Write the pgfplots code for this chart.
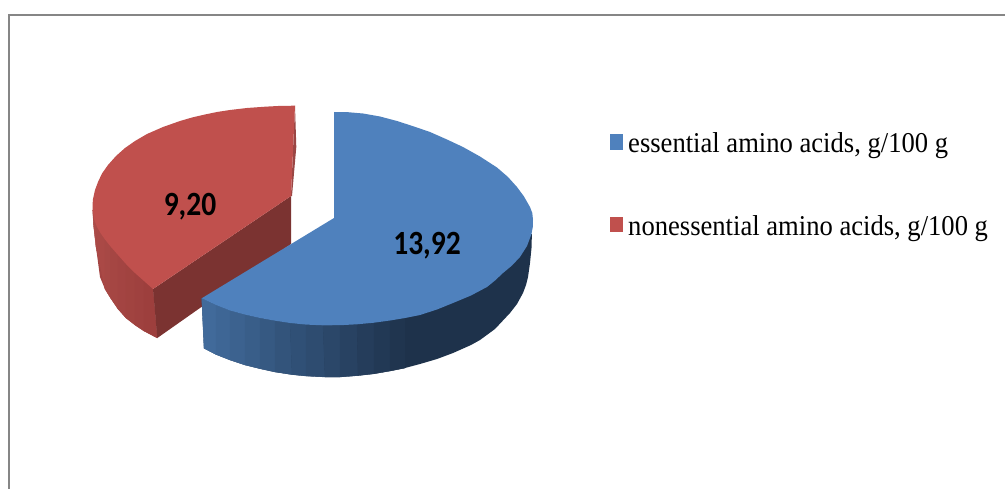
\documentclass[border=0pt]{standalone}
\usepackage{fontspec}
\setmainfont{Liberation Serif}
\newfontfamily\labelfont{Carlito}
\usepackage{pgfplots}
\pgfplotsset{compat=1.18}
\definecolor{framegray}{HTML}{868686}
\definecolor{blueTop}{HTML}{4F81BD}
\definecolor{blueDark}{RGB}{30,50,75}
\definecolor{redTop}{HTML}{C0504D}
\definecolor{redWall}{RGB}{163,68,66}
\definecolor{redInner}{HTML}{7B3331}
\definecolor{redSliver}{HTML}{9A4644}
\tikzset{
  chartlabel/.style={anchor=base, inner sep=0pt, text=black, yscale=1.15, transform shape,
    font=\fontsize{29.5bp}{30bp}\labelfont\bfseries},
  legendtext/.style={anchor=base west, inner sep=0pt, yscale=1.08, transform shape,
    font=\fontsize{26.6bp}{28bp}\selectfont},
}
\pgfplotsset{
  wallstrips/.style={patch, patch type=rectangle, shader=faceted, faceted color=mapped color,
    line width=0.3bp, point meta=explicit},
}
\begin{document}
\begin{tikzpicture}
% page extent
\path (0,0) rectangle (1005bp,489bp);
\begin{axis}[
  at={(0,0)}, anchor=south west,
  width=1005bp, height=489bp, scale only axis,
  xmin=0, xmax=1005, ymin=0, ymax=489, y dir=reverse,
  axis lines=none, clip=true,
  colormap={pieWalls}{
    rgb255(0)=(66,108,157) rgb255(25)=(47,78,115) rgb255(50)=(30,50,75)
    rgb255(51)=(172,75,72) rgb255(100)=(155,62,60)},
  point meta min=0, point meta max=1,
]
% chart frame
\addplot[framegray, line width=2bp] coordinates {(9,489) (9,15) (1005,15)};

% nonessential amino acids: outer wall, shaded left to right
\addplot[fill=redWall, draw=none] coordinates {
(92.7,210) (153,289) (157.3,338) (144,331) (135,325) (126,318) (118,309) (110.5,298) (105,289) (100,277) (96,247) (93.5,225)} -- cycle;
\addplot[wallstrips] table[meta=c] {
x y c
92.7 210 0.52
97 227 0.52
96 247 0.52
93.5 225 0.52
97 227 0.58
105 239.5 0.58
105 289 0.58
96 247 0.58
105 239.5 0.64
111 247 0.64
110.5 298 0.64
105 289 0.64
111 247 0.7
118 255 0.7
118 309 0.7
110.5 298 0.7
118 255 0.76
126 264 0.76
126 318 0.76
118 309 0.76
126 264 0.82
135 273 0.82
135 325 0.82
126 318 0.82
135 273 0.88
144 281 0.88
144 331 0.88
135 325 0.88
144 281 0.95
153 289 0.95
157.3 338 0.95
144 331 0.95
};
% nonessential amino acids: inner cut face and thin rear edge
\addplot[fill=redInner, draw=none] coordinates {(291,196) (153,289) (157.3,338) (291,244)} -- cycle;
\addplot[fill=redSliver, draw=none] coordinates {(295,105.7) (296.3,147) (292,196) (291,196)} -- cycle;
% nonessential amino acids: top face
\addplot[fill=redTop, draw=none] coordinates {
(295,105.7) (280,105.9) (265,106.7) (247,108) (230,110) (217,112) (205,114.5) (192,117.5) (180,121)
(163,127) (147,134) (135,141) (125,148) (116,156) (108,165) (102,173.5) (98,182) (95,190) (93,199)
(92.5,205) (92.7,210) (94,219) (97,227) (100.5,233) (105,239.5) (111,247) (118,255) (126,264) (135,273)
(144,281) (153,289) (291,196)} -- cycle;

% essential amino acids: outer wall, dark base with the shaded strips above it
\addplot[fill=blueDark, draw=none] coordinates {
(201.7,298.3) (531.5,234) (531.9,234) (531.5,248) (530,263) (528,277) (526,285) (523,293) (517,304) (510,313)
(495,329) (480,340) (471,345) (453,353) (437,359) (420,364) (405,368) (390,371) (374,373.8) (358,375.6)
(340,377) (325,377) (306,376) (292,374.6) (275,372) (260,368.7) (245,365) (230,360) (216,354.5) (204,348.3)} -- cycle;
\addplot[wallstrips] table[meta=c] {
x y c
201.7 298.3 0.017
216 305 0.017
216 354.5 0.017
204 348.3 0.017
216 305 0.05
230 310.5 0.05
230 360 0.05
216 354.5 0.05
230 310.5 0.085
245 314.6 0.085
245 365 0.085
230 360 0.085
245 314.6 0.12
260 318 0.12
260 368.7 0.12
245 365 0.12
260 318 0.16
275 320.7 0.16
275 372 0.16
260 368.7 0.16
275 320.7 0.2
290 323 0.2
292 374.6 0.2
275 372 0.2
290 323 0.235
306 324.6 0.235
306 376 0.235
292 374.6 0.235
306 324.6 0.27
323 325.3 0.27
325 377 0.27
306 376 0.27
323 325.3 0.315
340 325.2 0.315
340 377 0.315
325 377 0.315
340 325.2 0.355
357 324.3 0.355
358 375.6 0.355
340 377 0.355
357 324.3 0.4
374 322.7 0.4
374 373.8 0.4
358 375.6 0.4
374 322.7 0.44
390 320.5 0.44
390 371 0.44
374 373.8 0.44
390 320.5 0.475
405 318 0.475
405 368 0.475
390 371 0.475
};
% essential amino acids: top face
\addplot[fill=blueTop, draw=none] coordinates {
(334,218) (334,112) (348,112.2) (363,113.5) (380,116.5) (397,121) (414,126.5) (430,132) (447,139.5) (463,147)
(480,156.5) (497,167.5) (508,177) (517,187) (524,196.5) (530,207) (532.3,213) (533,220) (532.8,227) (531.5,234)
(527,246) (520,257) (512,265.5) (503,273) (495,280.5) (487,287) (471,295.5) (453,303) (437,309.5) (420,315)
(405,318) (390,320.5) (374,322.7) (357,324.3) (340,325.2) (323,325.3) (306,324.6) (290,323) (275,320.7)
(260,318) (245,314.6) (230,310.5) (216,305) (201.7,298.3)} -- cycle;

% value labels
\node[chartlabel] at (axis cs:427,254) {13,92};
\node[chartlabel] at (axis cs:190,215) {9,20};

% legend
\addplot[fill=blueTop, draw=none] coordinates {(610,134) (623,134) (623,150) (610,150)} -- cycle;
\addplot[fill=redTop, draw=none] coordinates {(610,217) (623,217) (623,232) (610,232)} -- cycle;
\node[legendtext] at (axis cs:628,152.7) {essential amino acids, g/100 g};
\node[legendtext] at (axis cs:628,235) {nonessential amino acids, g/100 g};
\end{axis}
\end{tikzpicture}
\end{document}
